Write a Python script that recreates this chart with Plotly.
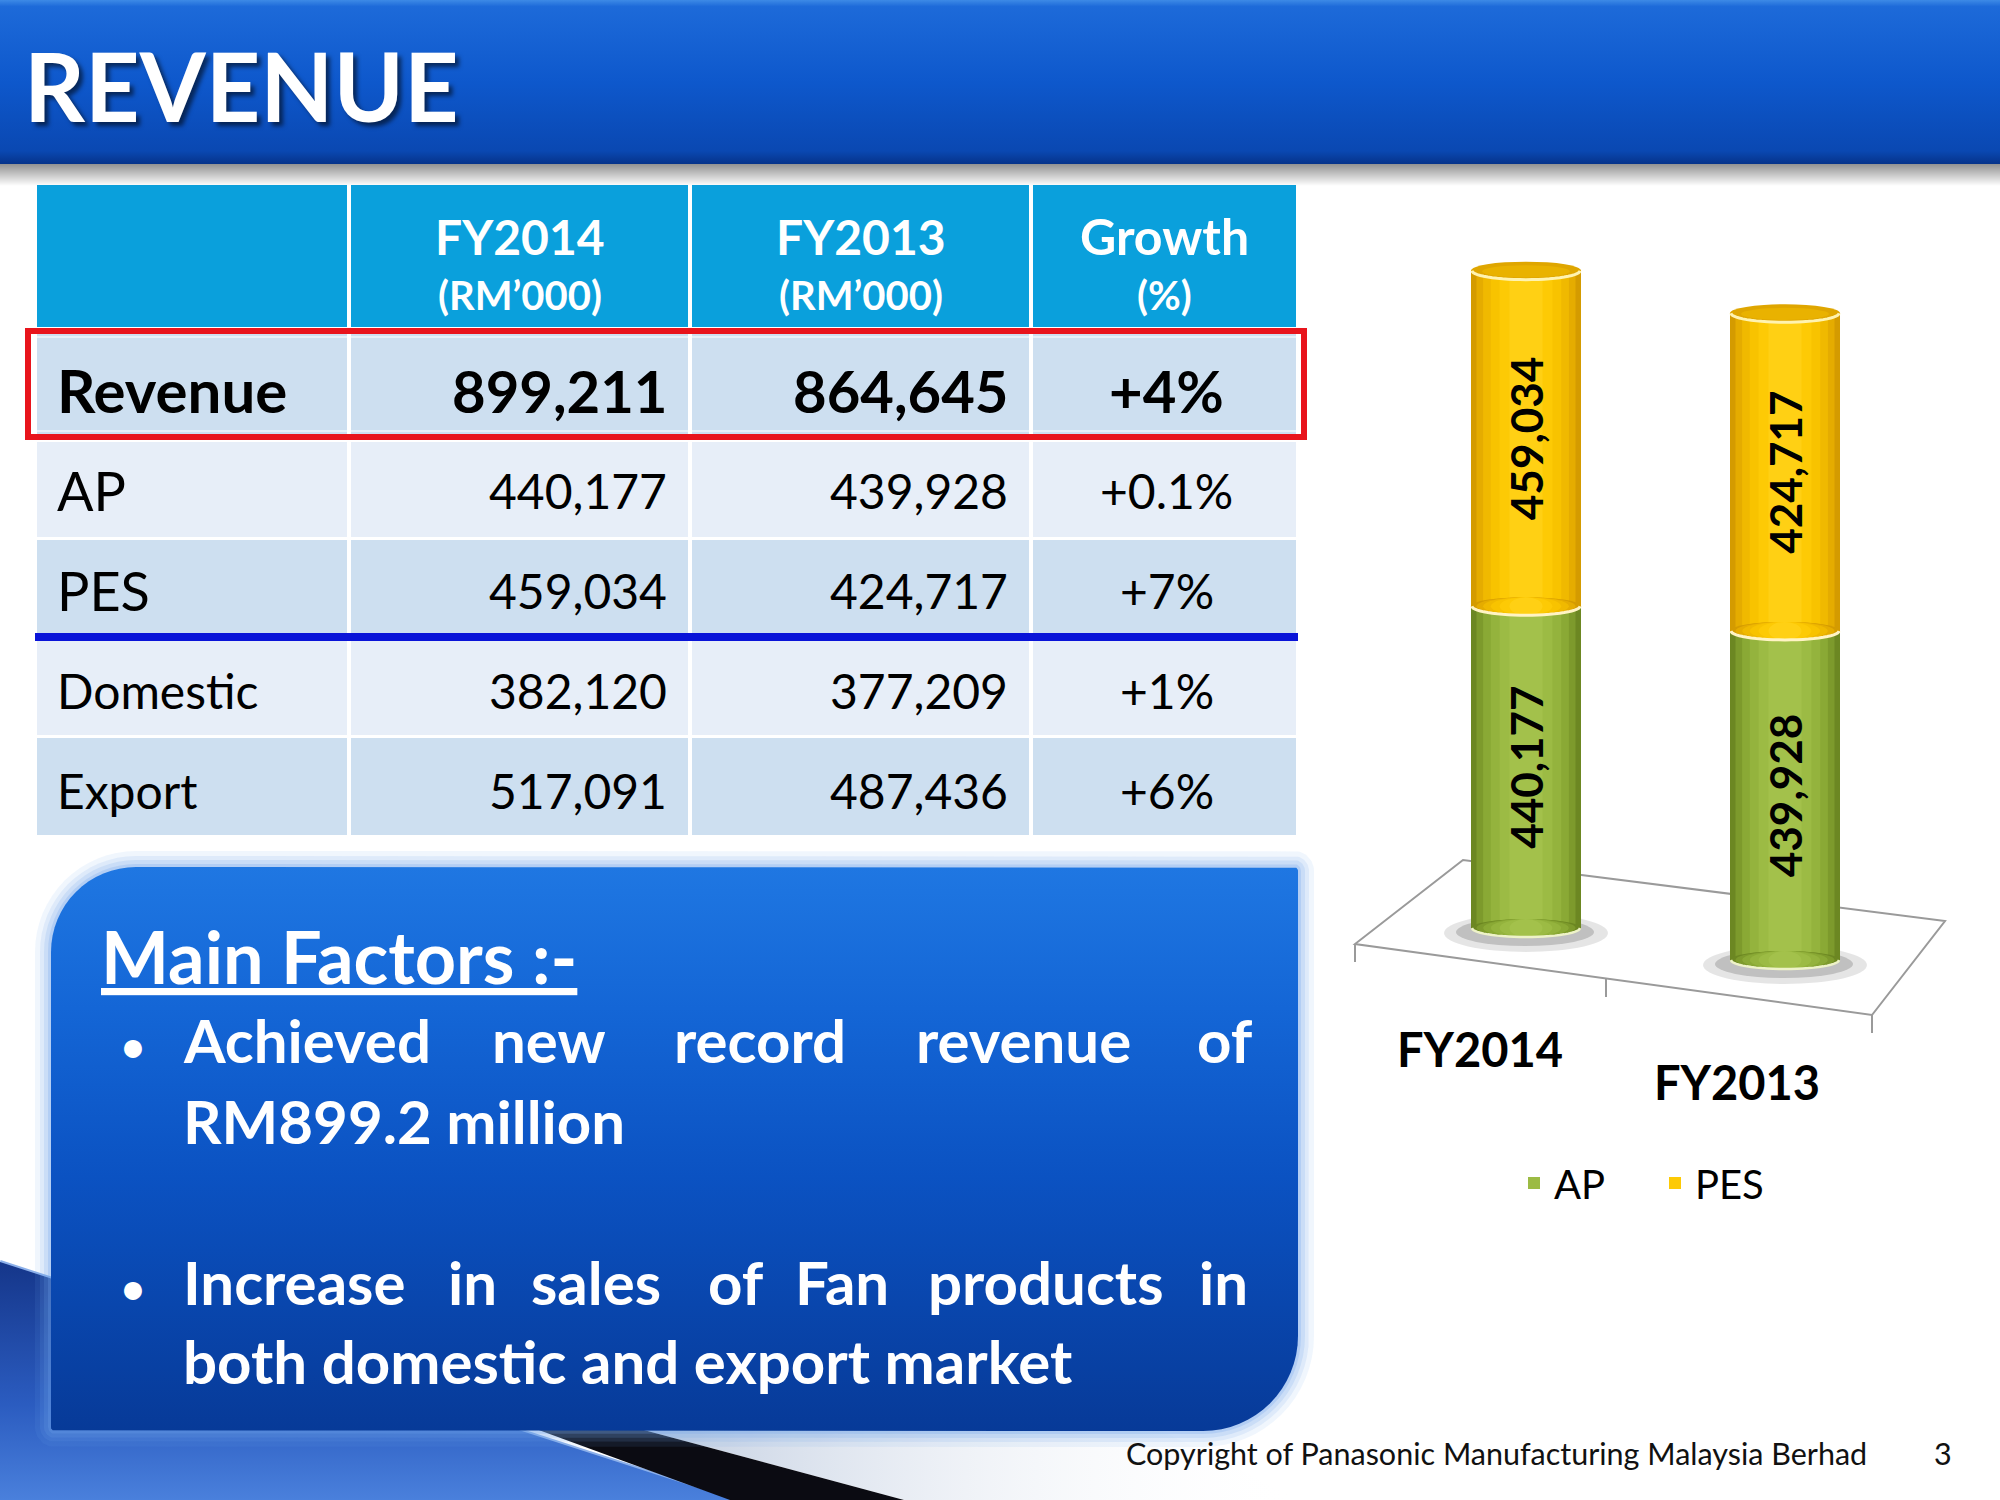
"""
Revenue slide: FY2014 vs FY2013 table, key factors and a stacked AP/PES cylinder chart.
"""
import math

import plotly.graph_objects as go

W, H = 2000, 1500

# ---- table data -------------------------------------------------------------
COLUMN_TITLES = ["FY2014", "FY2013", "Growth"]
COLUMN_UNITS = ["(RM’000)", "(RM’000)", "(%)"]
ROW_LABELS = ["Revenue", "AP", "PES", "Domestic", "Export"]
FY2014 = [899211, 440177, 459034, 382120, 517091]
FY2013 = [864645, 439928, 424717, 377209, 487436]
GROWTH = ["+4%", "+0.1%", "+7%", "+1%", "+6%"]

# ---- chart data -------------------------------------------------------------
YEARS = ["FY2014", "FY2013"]
AP_VALUES = [440177, 439928]
PES_VALUES = [459034, 424717]

# ---- text -------------------------------------------------------------------
TITLE = "REVENUE"
HEADING = "Main Factors :-"
BULLET_LINES = [
    ["Achieved", "new", "record", "revenue", "of"],
    ["RM899.2 million"],
    ["Increase", "in", "sales", "of", "Fan", "products", "in"],
    ["both domestic and export market"],
]
COPYRIGHT = "Copyright of Panasonic Manufacturing Malaysia Berhad"
PAGE_NO = "3"

# ---- styling / layout -------------------------------------------------------
FONT = "Lato"
COL_EDGES = [35, 349, 690, 1031, 1298]
ROW_EDGES = [185, 328, 440, 538, 636, 736, 836]
ROW_MID = [390, 490, 590, 690, 790]
LABEL_SIZE = [60, 54, 54, 48, 48]
VALUE_SIZE = [58, 48, 48, 48, 48]
HEADER_SIZE = [48, 48, 50]
ROW_FILL = ["#cddff0", "#e7eef8", "#cddff0", "#e7eef8", "#cddff0"]
HEADER_FILL = "#0aa0dc"

LINE_Y = [1040, 1121, 1282, 1361]
WORD_POS = [
    [("left", 181), ("center", 549), ("center", 760), ("center", 1023), ("right", 1255)],
    [("left", 181)],
    [("left", 181), ("center", 472), ("center", 596), ("center", 736),
     ("center", 842), ("center", 1046), ("right", 1250)],
    [("left", 181)],
]

LABEL_X = [1480, 1737]          # px, category position (tick label)
BAR_SHIFT = [46, 48]            # px, cylinder centre right of its label (perspective)
BAR_BASE = [928, 960]           # px of the value 0
PX_PER_UNIT = [0.000731, 0.000748]
Y_MIN, Y_MAX = -40000, 1000000
HALF_DOMAIN = 140               # px
RADIUS = 55                     # px
RY = 9                          # px
FRACS = [1.0, 0.9, 0.78, 0.64, 0.48, 0.3]
GREEN = ["#6c8722", "#7d9a2c", "#8aa935", "#94b33d", "#9cbb44", "#a3c14b"]
GOLD = ["#d49b00", "#e5ac00", "#f0b900", "#f8c300", "#fdca05", "#ffd014"]
LEGEND_LAYER = 4

fig = go.Figure()


def canvas_poly(xs, ys, color=None, gradient=None):
    kw = dict(x=xs, y=ys, mode="lines", fill="toself", line=dict(width=0),
              hoverinfo="skip", showlegend=False, xaxis="x", yaxis="y")
    if gradient:
        kw["fillgradient"] = gradient
    else:
        kw["fillcolor"] = color
    fig.add_trace(go.Scatter(**kw))


def vgrad(stops, y0, y1):
    return dict(type="vertical", colorscale=stops, start=y0, stop=y1)


def rounded_rect(x0, y0, x1, y1, radii, n=16):
    r_tl, r_tr, r_br, r_bl = radii
    corners = [(x0 + r_tl, y0 + r_tl, r_tl, 180), (x1 - r_tr, y0 + r_tr, r_tr, 270),
               (x1 - r_br, y1 - r_br, r_br, 0), (x0 + r_bl, y1 - r_bl, r_bl, 90)]
    xs, ys = [], []
    for cx, cy, r, a0 in corners:
        for k in range(n + 1):
            t = math.radians(a0 + 90 * k / n)
            xs.append(cx + r * math.cos(t))
            ys.append(cy + r * math.sin(t))
    xs.append(xs[0])
    ys.append(ys[0])
    return xs, ys


def text(x, y, s, size, color="black", bold=False, anchor="center", **extra):
    font = dict(family=FONT, size=size, color=color, weight="bold" if bold else "normal")
    font.update(extra)
    fig.add_annotation(x=x, y=y, text=s, xref="x", yref="y", showarrow=False,
                       xanchor=anchor, yanchor="middle", font=font)


def rect(x0, y0, x1, y1, fill, layer="below"):
    fig.add_shape(type="rect", xref="x", yref="y", x0=x0, y0=y0, x1=x1, y1=y1,
                  fillcolor=fill, line=dict(width=0), layer=layer)


# ---- background decoration (canvas in pixel coords) -------------------------
# swoosh bottom-left
canvas_poly([0, 735, 0, 0], [1262, 1500, 1500, 1262],
            gradient=vgrad([[0, "#15368a"], [0.6, "#2b5cc0"], [1, "#4a80dc"]], 1262, 1500))
canvas_poly([532, 1100, 1300, 904, 532], [1400, 1400, 1500, 1500, 1400],
            gradient=dict(type="horizontal", colorscale=[[0, "#b8c6dc"], [1, "rgba(255,255,255,0)"]],
                          start=600, stop=1300))
canvas_poly([457, 532, 904, 730, 457], [1400, 1400, 1500, 1500, 1400], color="#0b0b12")
fig.add_shape(type="line", xref="x", yref="y", x0=0, y0=1262, x1=735, y1=1500,
              line=dict(color="#8cb0ea", width=4), layer="below")

# key factors box with glow
BOX = (51, 867, 1298, 1431)
for d, a in [(16, 0.10), (11, 0.14), (7, 0.18), (3, 0.25)]:
    gx, gy = rounded_rect(BOX[0] - d, BOX[1] - d, BOX[2] + d, BOX[3] + d,
                          (85 + d, 4 + d, 95 + d, 4 + d))
    canvas_poly(gx, gy, color=f"rgba(110,165,235,{a})")
bx, by = rounded_rect(*BOX, (85, 4, 95, 4))
canvas_poly(bx, by, gradient=vgrad(
    [[0, "#1f77e2"], [0.25, "#1466d6"], [0.55, "#0b52c2"], [1, "#073a98"]], BOX[1], BOX[3]))

# title bar
canvas_poly([0, W, W, 0, 0], [163, 163, 186, 186, 163],
            gradient=vgrad([[0, "rgba(0,0,0,0.45)"], [1, "rgba(0,0,0,0)"]], 163, 186))
canvas_poly([0, W, W, 0, 0], [0, 0, 164, 164, 0], gradient=vgrad(
    [[0, "#3d8ae6"], [0.04, "#1d6ad9"], [0.5, "#0e58cc"], [0.92, "#0a48b2"], [1, "#06338a"]], 0, 164))

text(22, 85, TITLE, 95, color="white", bold=True, anchor="left",
     shadow="4px 4px 4px rgba(0,0,0,0.55)")

# ---- table ------------------------------------------------------------------
for c in range(4):
    rect(COL_EDGES[c] + 2, ROW_EDGES[0], COL_EDGES[c + 1] - 2, ROW_EDGES[1] - 1, HEADER_FILL)
for r in range(len(ROW_LABELS)):
    for c in range(4):
        rect(COL_EDGES[c] + 2, ROW_EDGES[r + 1] + 2, COL_EDGES[c + 1] - 2, ROW_EDGES[r + 2] - 1,
             ROW_FILL[r])

for c, (title, unit) in enumerate(zip(COLUMN_TITLES, COLUMN_UNITS)):
    cx = (COL_EDGES[c + 1] + COL_EDGES[c + 2]) / 2
    text(cx, 236, title, HEADER_SIZE[c], color="white", bold=True)
    text(cx, 295, unit, 40, color="white", bold=True)

for r, label in enumerate(ROW_LABELS):
    bold = r == 0
    y = ROW_MID[r]
    text(55, y, label, LABEL_SIZE[r], bold=bold, anchor="left")
    text(669, y, f"{FY2014[r]:,}", VALUE_SIZE[r], bold=bold, anchor="right")
    text(1010, y, f"{FY2013[r]:,}", VALUE_SIZE[r], bold=bold, anchor="right")
    text((COL_EDGES[3] + COL_EDGES[4]) / 2 + 2, y, GROWTH[r], VALUE_SIZE[r], bold=bold)

# highlight of the total row and separator under the segments
fig.add_shape(type="rect", xref="x", yref="y", x0=28, y0=331, x1=1304, y1=437,
              line=dict(color="#e8141c", width=6), layer="above")
fig.add_shape(type="rect", xref="x", yref="y", x0=34, y0=331 + 6, x1=1298, y1=437 - 6,
              line=dict(color="rgba(255,255,255,0.7)", width=1.5), layer="above")
rect(COL_EDGES[0], 633, COL_EDGES[-1], 641, "#0a14d8", layer="above")

# ---- key factors text -------------------------------------------------------
text(99, 956, f"<u>{HEADING}</u>", 72, color="white", bold=True, anchor="left")
for y in (LINE_Y[0], LINE_Y[2]):
    text(133, y + 4, "•", 48, color="white")
for words, pos, y in zip(BULLET_LINES, WORD_POS, LINE_Y):
    for w, (anchor, x) in zip(words, pos):
        text(x, y, w, 60, color="white", bold=True, anchor=anchor)

text(1869, 1453, COPYRIGHT, 30.5, color="#111111", anchor="right")
text(1943, 1453, PAGE_NO, 30.5, color="#111111")

# ---- 3D-looking floor of the chart -----------------------------------------
fig.add_shape(type="path", xref="x", yref="y", layer="below",
              path="M 1463,860 L 1355,944 L 1872,1015 L 1945,921 Z",
              line=dict(color="#9a9a9a", width=2))
for tx, ty in [(1355, 944), (1606, 979), (1872, 1015)]:
    fig.add_shape(type="line", xref="x", yref="y", x0=tx, y0=ty, x1=tx, y1=ty + 18,
                  line=dict(color="#9a9a9a", width=2), layer="below")


# ---- cylinders --------------------------------------------------------------
def arc_path(cx, rx, ry, n=28):
    pts = [(cx + rx * math.cos(math.pi * k / n), -ry * math.sin(math.pi * k / n))
           for k in range(n + 1)]
    return "M " + " L ".join(f"{x:.2f},{y:.2f}" for x, y in pts)


def px_shape(xa, ya, yval, **kw):
    fig.add_shape(xref=xa, yref=ya, xsizemode="pixel", ysizemode="pixel",
                  xanchor=0, yanchor=yval, **kw)


axes = {}
unit_per_px = 1 / (2 * HALF_DOMAIN)
bar_w = 2 * RADIUS * unit_per_px
for i, year in enumerate(YEARS):
    xa, ya = f"x{i + 2}", f"y{i + 2}"
    lx = LABEL_X[i]
    sx = BAR_SHIFT[i]
    bottom_px = BAR_BASE[i] - Y_MIN * PX_PER_UNIT[i]
    top_px = BAR_BASE[i] - Y_MAX * PX_PER_UNIT[i]
    axes[f"xaxis{i + 2}"] = dict(
        domain=[(lx - HALF_DOMAIN) / W, (lx + HALF_DOMAIN) / W], anchor=ya,
        type="category", range=[-0.5, 0.5], showgrid=False, zeroline=False,
        showline=False, ticks="", ticklabelstandoff=62, fixedrange=True,
        tickfont=dict(family=FONT, size=47, color="black", weight="bold"))
    axes[f"yaxis{i + 2}"] = dict(
        domain=[1 - bottom_px / H, 1 - top_px / H], anchor=xa, range=[Y_MIN, Y_MAX],
        visible=False, fixedrange=True)

    segments = [("AP", AP_VALUES[i], 0, GREEN), ("PES", PES_VALUES[i], AP_VALUES[i], GOLD)]
    for name, val, base, shades in segments:
        for k, (f, col) in enumerate(zip(FRACS, shades)):
            fig.add_trace(go.Bar(
                x=[year], y=[val], base=[base], width=[bar_w * f],
                offset=[sx * unit_per_px - bar_w * f / 2], name=name,
                legendgroup=name, showlegend=(i == 0 and k == LEGEND_LAYER),
                marker=dict(color=col, line=dict(width=0)), hoverinfo="skip",
                xaxis=xa, yaxis=ya))
    for name, val, base, shades in segments:
        fig.add_trace(go.Bar(
            x=[year], y=[val], base=[base], width=[bar_w],
            offset=[sx * unit_per_px - bar_w / 2], name=name, legendgroup=name,
            showlegend=False, marker=dict(color="rgba(0,0,0,0)", line=dict(width=0)),
            text=[f"{val:,}"], textposition="inside", textangle=-90,
            insidetextanchor="middle", constraintext="none",
            textfont=dict(family=FONT, size=44, color="black", weight="bold"),
            hovertemplate=f"{year} {name}: %{{y:,}}<extra></extra>",
            xaxis=xa, yaxis=ya))

    # floor shadow
    px_shape(xa, ya, 0, type="circle", x0=sx - 82, x1=sx + 82, y0=-24, y1=14,
             fillcolor="rgba(0,0,0,0.10)", line=dict(width=0), layer="below")
    px_shape(xa, ya, 0, type="circle", x0=sx - 70, x1=sx + 68, y0=-18, y1=10,
             fillcolor="rgba(0,0,0,0.16)", line=dict(width=0), layer="below")
    # rounded bottom and the curved AP/PES joint
    for yval, shades in [(0, GREEN), (AP_VALUES[i], GOLD)]:
        for f, col in zip(FRACS, shades):
            px_shape(xa, ya, yval, type="circle", x0=sx - RADIUS * f, x1=sx + RADIUS * f,
                     y0=-RY, y1=RY, fillcolor=col, line=dict(width=0), layer="above")
    px_shape(xa, ya, 0, type="path", path=arc_path(sx, RADIUS - 1, RY),
             line=dict(color="#eef3c8", width=2.5), layer="above")
    px_shape(xa, ya, AP_VALUES[i], type="path", path=arc_path(sx, RADIUS - 1, RY),
             line=dict(color="#fff4c4", width=3), layer="above")
    # top face
    total = AP_VALUES[i] + PES_VALUES[i]
    px_shape(xa, ya, total, type="circle", x0=sx - RADIUS, x1=sx + RADIUS, y0=-RY, y1=RY,
             fillcolor="#dfa600", line=dict(width=0), layer="above")
    px_shape(xa, ya, total, type="circle", x0=sx - RADIUS * 0.8, x1=sx + RADIUS * 0.8,
             y0=-RY * 0.75, y1=RY * 0.6, fillcolor="#e9b200", line=dict(width=0), layer="above")
    px_shape(xa, ya, total, type="path", path=arc_path(sx, RADIUS - 1, RY),
             line=dict(color="#fff3b0", width=3), layer="above")

fig.update_layout(
    width=W, height=H,
    margin=dict(l=0, r=0, t=0, b=0),
    paper_bgcolor="white",
    plot_bgcolor="rgba(0,0,0,0)",
    barmode="overlay",
    xaxis=dict(domain=[0, 1], range=[0, W], visible=False, fixedrange=True),
    yaxis=dict(domain=[0, 1], range=[H, 0], visible=False, fixedrange=True),
    legend=dict(orientation="h", x=0.8275, xanchor="center", y=1 - 1183 / H, yanchor="middle",
                font=dict(family=FONT, size=40, color="black"), bgcolor="rgba(0,0,0,0)",
                traceorder="normal", entrywidth=96),
    **axes,
)

# drop the default page margin so the slide sits flush in the window
fig.write_html("out.html", config={"displayModeBar": False},
               post_script="document.body.style.margin = '0';")
